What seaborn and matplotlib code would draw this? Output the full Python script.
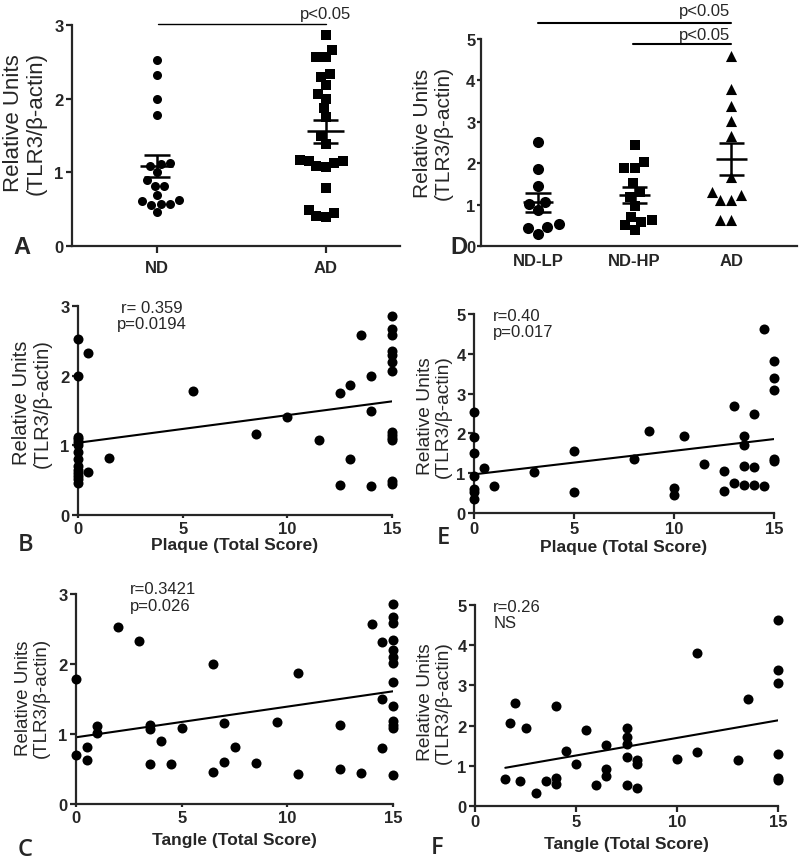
import numpy as np
import pandas as pd
import matplotlib
matplotlib.use("Agg")
import matplotlib.pyplot as plt
import seaborn as sns

# Panel A: TLR3 in ND vs AD
nd_a = [2.53, 2.32, 2.00, 1.78, 1.12, 1.09, 1.11, 1.00, 0.89, 0.81, 0.82, 0.69,
        0.57, 0.62, 0.61, 0.56, 0.57, 0.46]
ad_a = [2.86, 2.66, 2.57, 2.57, 2.34, 2.30, 2.19, 2.06, 1.99, 1.87, 1.75, 1.50,
        1.39, 1.16, 1.13, 1.07, 1.08, 1.16, 1.17, 0.79, 0.45, 0.39, 0.41, 0.49]

# Panel D: ND-LP, ND-HP, AD
lp_d = [2.52, 1.85, 1.46, 1.02, 1.07, 0.86, 0.46, 0.30, 0.43, 0.54]
hp_d = [2.44, 1.89, 1.89, 2.02, 1.51, 1.31, 1.19, 0.96, 0.70, 0.59, 0.39, 0.50, 0.64]
ad_d = [4.60, 3.80, 3.38, 3.02, 2.66, 1.66, 1.30, 1.23, 1.10, 1.10, 0.62, 0.63]

# Panel B: plaque score vs TLR3
plaque_b = [0, 0.5, 0, 5.5, 1.5, 0.5, 0, 0, 0, 0, 0, 0, 0, 0, 0, 0, 0, 0,
            8.5, 10, 11.5, 12.5, 13, 13.5, 14, 14, 13, 12.5, 14,
            15, 15, 15, 15, 15, 15, 15, 15, 15, 15, 15, 15, 15]
tlr3_b = [2.53, 2.33, 2.00, 1.78, 0.82, 0.62, 1.12, 1.09, 1.05, 1.00, 0.90, 0.81,
          0.71, 0.64, 0.60, 0.56, 0.52, 0.46,
          1.16, 1.40, 1.07, 1.75, 1.87, 2.58, 2.00, 1.50, 0.80, 0.43, 0.41,
          2.86, 2.67, 2.58, 2.35, 2.29, 2.20, 2.07, 1.19, 1.15, 1.11, 1.08, 0.49, 0.45]

# Panel E: plaque score vs TLR3 (second cohort)
plaque_e = [0, 0, 0, 0, 0, 0, 0, 0.5, 1, 3, 5, 5, 8, 8.75, 10, 10, 10.5, 11.5,
            12.5, 12.5, 13, 13, 13.5, 13.5, 13.5, 13.5, 14, 14, 14, 14.5, 14.5,
            15, 15, 15, 15, 15]
tlr3_e = [2.53, 1.90, 1.52, 0.94, 0.60, 0.52, 0.35, 1.12, 0.67, 1.04, 1.55, 0.52,
          1.36, 2.07, 0.63, 0.45, 1.94, 1.23, 1.05, 0.56, 2.68, 0.75, 1.94, 1.72,
          1.18, 0.71, 2.49, 1.16, 0.70, 4.62, 0.68, 3.81, 3.39, 3.08, 1.36, 1.30]

# Panel C: tangle score vs TLR3
tangle_c = [0, 0, 0.5, 0.5, 1, 1, 2, 3, 3.5, 3.5, 3.5, 4, 4.5, 5, 6.5, 6.5, 7, 7,
            7.5, 8.5, 9.5, 10.5, 10.5, 12.5, 12.5, 13.5, 14, 14.5, 14.5, 14.5,
            15, 15, 15, 15, 15, 15, 15, 15, 15, 15, 15, 15, 15]
tlr3_c = [1.79, 0.70, 0.82, 0.63, 1.12, 1.02, 2.53, 2.33, 1.13, 1.07, 0.57, 0.90,
          0.57, 1.09, 2.00, 0.46, 1.16, 0.60, 0.82, 0.58, 1.17, 1.87, 0.43, 1.13,
          0.50, 0.45, 2.57, 2.31, 1.50, 0.80,
          2.86, 2.67, 2.58, 2.34, 2.20, 2.10, 2.02, 1.75, 1.40, 1.19, 1.13, 1.08, 0.41]

# Panel F: tangle score vs TLR3 (second cohort)
tangle_f = [1.5, 1.75, 2, 2.25, 2.5, 3, 3.5, 4, 4, 4, 4.5, 5, 5.5, 6, 6.5, 6.5, 6.5,
            7.5, 7.5, 7.5, 7.5, 7.5, 8, 8, 8, 10, 11, 11, 13, 13.5,
            15, 15, 15, 15, 15, 15]
tlr3_f = [0.66, 2.06, 2.55, 0.61, 1.93, 0.33, 0.62, 2.49, 0.70, 0.54, 1.37, 1.04,
          1.89, 0.51, 1.52, 0.93, 0.75, 1.93, 1.72, 1.53, 1.22, 0.51, 1.14, 1.05,
          0.46, 1.16, 3.81, 1.34, 1.14, 2.67, 4.62, 3.38, 3.05, 1.30, 0.70, 0.65]

sns.set_style("ticks")
plt.rcParams["font.family"] = ["Liberation Sans", "DejaVu Sans"]
plt.rcParams["axes.linewidth"] = 1.6

W, H = 800, 862
fig = plt.figure(figsize=(8, 8.62), dpi=100)


def box(left, right, top, bottom):
    # pixel box -> figure fraction
    return [left / W, 1 - bottom / H, (right - left) / W, (bottom - top) / H]


ylab = "Relative Units\n(TLR3/\u03b2-actin)"


def style(ax, ylab_size, xlen=4):
    sns.despine(ax=ax)
    ax.tick_params(axis="y", width=1.6, length=4, labelsize=12, pad=2)
    ax.tick_params(axis="x", width=1.6, length=xlen, labelsize=12, pad=2)
    for t in ax.get_xticklabels() + ax.get_yticklabels():
        t.set_fontweight("bold")
    ax.set_ylabel(ylab, fontsize=ylab_size, linespacing=1.1)


def mean_sem(ax, vals, pos, wm, ws):
    v = np.array(vals)
    m = v.mean()
    se = v.std(ddof=1) / np.sqrt(len(v))
    ax.hlines(m, pos - wm, pos + wm, color="black", lw=1.8, zorder=5)
    ax.hlines([m - se, m + se], pos - ws, pos + ws, color="black", lw=1.8, zorder=5)
    ax.vlines(pos, m - se, m + se, color="black", lw=1.8, zorder=5)


# ---- A ----
axA = fig.add_axes(box(72, 400, 26, 247))
cats_a = ["ND", "AD"]
sns.swarmplot(x=["ND"] * len(nd_a), y=nd_a, order=cats_a, marker="o", size=6.5,
              color="black", linewidth=0, ax=axA)
sns.swarmplot(x=["AD"] * len(ad_a), y=ad_a, order=cats_a, marker="s", size=6.5,
              color="black", linewidth=0, ax=axA)
mean_sem(axA, nd_a, 0, 0.1, 0.077)
mean_sem(axA, ad_a, 1, 0.11, 0.074)
axA.set_xlim(-0.5, 1.44)
axA.set_ylim(0, 3)
axA.set_yticks([0, 1, 2, 3])
axA.plot([0.01, 1.0], [3.01, 3.01], color="black", lw=1, clip_on=False)
axA.text(1.0, 3.05, "p<0.05", ha="center", va="bottom", fontsize=12)
style(axA, 16)
axA.tick_params(axis="x", length=5, pad=5)
axA.set_xlabel("")
axA.yaxis.set_label_coords(-0.076, 0.56)

# ---- D ----
axD = fig.add_axes(box(481, 797, 40, 247))
cats_d = ["ND-LP", "ND-HP", "AD"]
sns.swarmplot(x=["ND-LP"] * len(lp_d), y=lp_d, order=cats_d, marker="o", size=8,
              color="black", linewidth=0, ax=axD)
sns.swarmplot(x=["ND-HP"] * len(hp_d), y=hp_d, order=cats_d, marker="s", size=7.5,
              color="black", linewidth=0, ax=axD)
sns.swarmplot(x=["AD"] * len(ad_d), y=ad_d, order=cats_d, marker="^", size=8,
              color="black", linewidth=0, ax=axD)
mean_sem(axD, lp_d, 0, 0.16, 0.13)
mean_sem(axD, hp_d, 1, 0.16, 0.13)
mean_sem(axD, ad_d, 2, 0.16, 0.13)
axD.set_xlim(-0.59, 2.68)
axD.set_ylim(0, 5)
axD.set_yticks([0, 1, 2, 3, 4, 5])
axD.plot([0, 2], [5.38, 5.38], color="black", lw=1.5, clip_on=False)
axD.plot([0.98, 2], [4.88, 4.88], color="black", lw=1.5, clip_on=False)
axD.text(1.72, 5.5, "p<0.05", ha="center", va="bottom", fontsize=12)
axD.text(1.72, 4.93, "p<0.05", ha="center", va="bottom", fontsize=12)
style(axD, 15, xlen=0)
axD.tick_params(axis="x", pad=5)
axD.tick_params(axis="y", length=3, pad=1)
axD.set_xlabel("")
axD.yaxis.set_label_coords(-0.09, 0.55)


def scatter_panel(rect, xs, ys, ymax, yticks, xlabel, ylab_size, note, note_xy,
                  note_ha, xlen):
    ax = fig.add_axes(rect)
    sns.regplot(x=np.array(xs), y=np.array(ys), ci=None, color="black", ax=ax,
                scatter_kws=dict(s=52, alpha=1, linewidths=0, clip_on=False, zorder=4),
                line_kws=dict(lw=1.5))
    ax.set_xlim(0, 15)
    ax.set_ylim(0, ymax)
    ax.set_xticks([0, 5, 10, 15])
    ax.set_yticks(yticks)
    style(ax, ylab_size, xlen=xlen)
    ax.set_xlabel(xlabel, fontsize=12.5, fontweight="bold")
    ax.text(note_xy[0], note_xy[1], note, transform=ax.transAxes, ha=note_ha,
            va="top", fontsize=12, linespacing=1.1)
    return ax


axB = scatter_panel(box(78, 392, 307, 516), plaque_b, tlr3_b, 3, [0, 1, 2, 3],
                    "Plaque (Total Score)", 14.5, "r= 0.359\np=0.0194",
                    (0.235, 1.03), "center", 2)
axB.yaxis.set_label_coords(-0.083, 0.54)
axB.xaxis.set_label_coords(0.5, -0.105)

axE = scatter_panel(box(474, 774, 315, 514), plaque_e, tlr3_e, 5, [0, 1, 2, 3, 4, 5],
                    "Plaque (Total Score)", 13.8, "r=0.40\np=0.017",
                    (0.063, 1.03), "left", 4)
axE.yaxis.set_label_coords(-0.073, 0.49)
axE.xaxis.set_label_coords(0.5, -0.13)

axC = scatter_panel(box(76, 393, 595, 805), tangle_c, tlr3_c, 3, [0, 1, 2, 3],
                    "Tangle (Total Score)", 13.5, "r=0.3421\np=0.026",
                    (0.17, 1.06), "left", 2)
axC.yaxis.set_label_coords(-0.082, 0.51)
axC.xaxis.set_label_coords(0.5, -0.133)

axF = scatter_panel(box(475, 778, 606, 807), tangle_f, tlr3_f, 5, [0, 1, 2, 3, 4, 5],
                    "Tangle (Total Score)", 13.8, "r=0.26\nNS",
                    (0.06, 1.03), "left", 4)
axF.yaxis.set_label_coords(-0.076, 0.52)
axF.xaxis.set_label_coords(0.5, -0.15)

# panel letters
for letter, px, py, fam, wt in [("A", 22, 248, "Liberation Sans", "bold"),
                                ("D", 459, 247, "Liberation Sans", "bold"),
                                ("B", 26, 545, "Open Sans", "semibold"),
                                ("E", 443, 538, "Open Sans", "semibold"),
                                ("C", 25, 850, "Open Sans", "semibold"),
                                ("F", 437, 848, "Open Sans", "semibold")]:
    fig.text(px / W, 1 - py / H, letter, ha="center", va="center", fontsize=17,
             fontweight=wt, family=[fam, "DejaVu Sans"])

fig.savefig("out.png", dpi=100)
